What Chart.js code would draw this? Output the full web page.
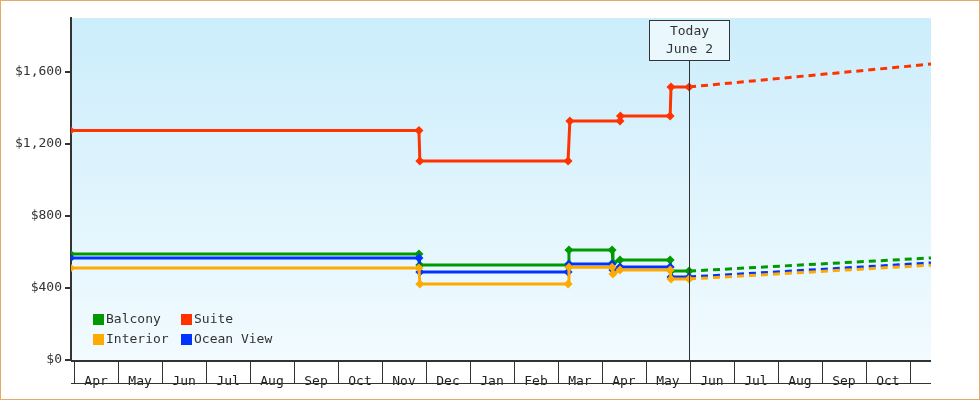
<!DOCTYPE html><html><head><meta charset="utf-8">
<script src="https://cdn.jsdelivr.net/npm/chart.js@4"></script>
<style>body{margin:0;background:#fff}#w{width:980px;height:400px;position:relative}</style></head><body><div id="w"><canvas id="c"></canvas></div>
<script>
// x values are months since Apr 1 (fractional)
const monthLabels=["Apr","May","Jun","Jul","Aug","Sep","Oct","Nov","Dec","Jan","Feb","Mar","Apr","May","Jun","Jul","Aug","Sep","Oct"];
const yTicks=[0,400,800,1200,1600];
const todayX=13.98, endX=19.48;
const suiteX=[-0.07,7.84,7.86,11.23,11.27,12.41,12.42,13.55,13.57,13.98];
const suiteY=[1275,1275,1105,1105,1328,1328,1355,1355,1517,1517];
const balconyX=[-0.07,7.84,7.86,11.23,11.25,12.23,12.25,12.41,13.55,13.57,13.98];
const balconyY=[589,589,528,528,611,611,540,555,555,494,494];
const oceanX=[-0.07,7.84,7.86,11.23,11.25,12.23,12.25,12.41,13.55,13.57,13.98];
const oceanY=[567,567,489,489,533,533,500,517,517,461,461];
const interiorX=[-0.07,7.84,7.86,11.23,11.25,12.23,12.25,12.41,13.55,13.57,13.98];
const interiorY=[511,511,422,422,515,515,478,500,500,450,450];
const forecastEnd={Suite:1644,Balcony:567,"Ocean View":539,Interior:527};
const series=[["Interior",interiorX,interiorY,"#ffaa00"],["Ocean View",oceanX,oceanY,"#0033ff"],["Balcony",balconyX,balconyY,"#009900"],["Suite",suiteX,suiteY,"#ff3300"]];
const datasets=[];
series.forEach(([n,xs,ys,c])=>{
 datasets.push({label:n,data:xs.map((x,i)=>({x,y:ys[i]})),borderColor:c,backgroundColor:c,borderWidth:3,pointStyle:'rectRot',pointRadius:xs.map((x,i)=>i===0?4:4.5),pointBorderWidth:0,tension:0});
 datasets.push({label:n+' f',data:[{x:todayX,y:ys[ys.length-1]},{x:endX,y:forecastEnd[n]}],borderColor:c,borderWidth:3,borderDash:[7,5],pointRadius:0,tension:0});
});
const font={family:'DejaVu Sans Mono',size:13};
const plug={id:'p',
 beforeDraw(ch){const {ctx,chartArea:a}=ch;const g=ctx.createLinearGradient(0,a.top,0,a.bottom);g.addColorStop(0,'#ccedfb');g.addColorStop(1,'#f2fbff');ctx.fillStyle=g;ctx.fillRect(a.left,a.top,a.right-a.left,a.bottom-a.top);},
 afterDraw(ch){const {ctx,chartArea:a,scales:{x}}=ch;ctx.save();
  ctx.strokeStyle='#333';ctx.lineWidth=1;
  ctx.beginPath();ctx.moveTo(a.left,383.5);ctx.lineTo(a.right,383.5);
  for(let i=0;i<=19;i++){const px=Math.round(x.getPixelForValue(i))+0.5;ctx.moveTo(px,a.bottom);ctx.lineTo(px,383.5);}
  ctx.stroke();
  ctx.lineWidth=2;ctx.beginPath();ctx.moveTo(a.left,a.bottom+1);ctx.lineTo(a.right,a.bottom+1);ctx.stroke();
  const tx=Math.round(x.getPixelForValue(todayX))+0.5;
  ctx.lineWidth=1;ctx.beginPath();ctx.moveTo(tx,60);ctx.lineTo(tx,a.bottom);ctx.stroke();
  ctx.fillStyle='#eaf8fd';ctx.fillRect(tx-40,20,80,40);ctx.strokeRect(tx-40,20.5,80,40);
  ctx.fillStyle='#333';ctx.font='13px DejaVu Sans Mono';ctx.textAlign='center';ctx.textBaseline='middle';
  ctx.fillText('Today',tx,32);ctx.fillText('June 2',tx,50);
  const leg=[["Balcony",93,320],["Suite",181,320],["Interior",93,340],["Ocean View",181,340]];
  ctx.textAlign='left';
  leg.forEach(([n,lx,ly])=>{ctx.fillStyle=series.find(s=>s[0]===n)[3];ctx.fillRect(lx,ly-6,11,11);ctx.fillStyle='#333';ctx.fillText(n,lx+13,ly);});
  ctx.strokeStyle='#e8a868';ctx.lineWidth=1;ctx.strokeRect(0.5,0.5,979,399);
  ctx.restore();}};
new Chart(document.getElementById('c'),{type:'line',data:{datasets},plugins:[plug],
options:{responsive:true,maintainAspectRatio:false,animation:false,
 layout:{padding:{top:18,right:49,left:0,bottom:0}},
 plugins:{legend:{display:false},tooltip:{enabled:false}},
 scales:{
  x:{type:'linear',min:-0.07,max:endX,
   afterBuildTicks(s){s.ticks=monthLabels.map((m,i)=>({value:i+0.5}));},
   afterFit(s){s.height=40;},
   grid:{display:false},border:{display:false},
   ticks:{font,color:'#222',maxRotation:0,autoSkip:false,padding:6,callback:(v)=>monthLabels[Math.floor(v)]}},
  y:{min:0,max:1900,
   afterBuildTicks(s){s.ticks=yTicks.map(v=>({value:v}));},
   afterFit(s){s.width=71;},
   grid:{drawOnChartArea:false,tickLength:6,color:'#333',lineWidth:2},border:{color:'#333',width:2},
   ticks:{font,color:'#333',padding:3,callback:v=>'$'+v.toLocaleString('en-US')}}}}});
</script></body></html>
